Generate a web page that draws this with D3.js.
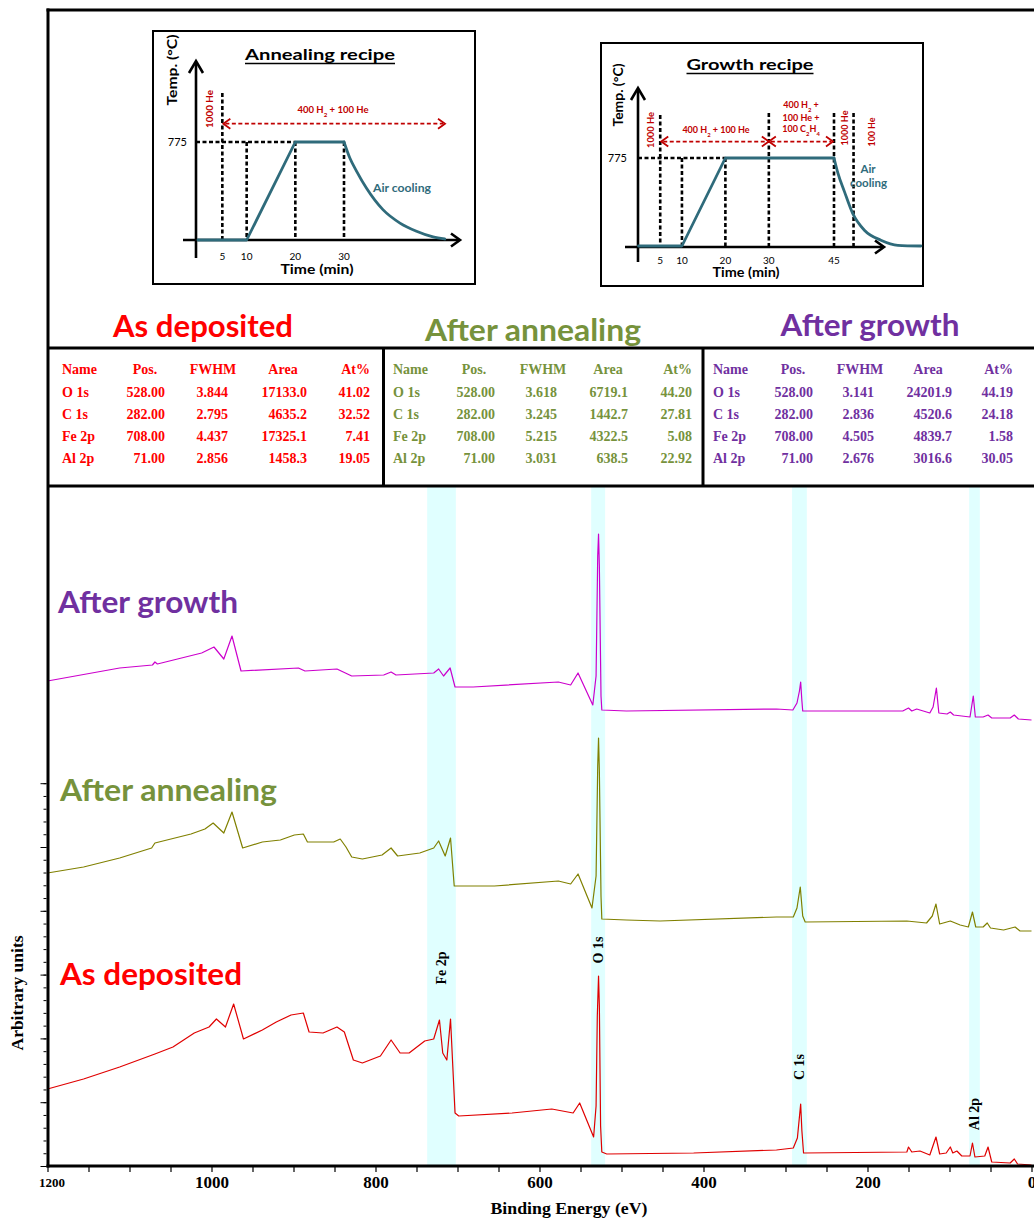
<!DOCTYPE html>
<html>
<head>
<meta charset="utf-8">
<script src="https://cdn.jsdelivr.net/npm/d3@7"></script>
<style>
  html, body { margin: 0; padding: 0; background: #fff; }
  svg { display: block; }
</style>
</head>
<body>
<svg id="chart" width="1034" height="1222"></svg>
<script>
// ---------------- XPS survey spectra: [binding energy (eV), intensity (a.u.)] ----------------
const afterGrowth = [
  [1200,485],[1112,498],[1072,501],[1069,504],[1066,502],[1012,513],[997,519],[985,507],[975,530],[964,495],
  [894,498],[886,495],[847,497],[829,490],[790,491],[781,494],[775,491],[729,493],[723,497],[717,490],
  [709,498],[703,479],[681,479],[577,484],[562,481],[553,493],[535,461],[531,490],[529,610],[528,632],
  [527,600],[525,470],[524,456],[494,455],[311,457],[291,456],[286,463],[283,475],[281.5,484],[280,465],
  [279,455],[157,455],[150,458],[146,455],[140,457],[124,453],[120,459],[116,478],[113,453],[103,452],
  [99,454],[95,451],[75,449],[71,470],[68.5,449],[59,449],[53,451],[48.5,448],[26,448],[21,451],
  [16,447],[0,446]
];
const afterAnnealing = [
  [1200,293],[1156,299],[1112,308],[1073,318],[1069,323],[1025,332],[1008,337],[998,343],[985,333],[975,354],
  [962,318],[938,324],[916,326],[899,331],[888,332],[883,324],[851,324],[843,327],[836,319],[829,309],
  [816,307],[792,311],[781,318],[773,310],[746,313],[729,318],[723,325],[715,310],[708.5,328],[704,280],
  [655,280],[577,285],[562,282],[553,292],[541,268],[536,258],[531,290],[529,400],[528,428],[527,395],
  [525,270],[524,247],[494,246],[453,245],[311,249],[290.5,249],[286,258],[282,279],[279,250],[276,244],
  [152,245],[128,243],[121,250],[116.5,262],[112,242],[99,245],[87,241],[77,239],[72,254],[68,239],
  [59,239],[54,243],[50,238],[34,236],[20,239],[14,235],[0,235]
];
const asDeposited = [
  [1200,77],[1156,87],[1112,99],[1069,112],[1047,119],[1021,133],[1003,139],[994,147],[983,139],[973,162],
  [961,127],[938,136],[921,144],[903,151],[888,153],[881,134],[864,133],[847,139],[838,134],[827,106],
  [816,103],[794,110],[781,126],[770,113],[759,113],[740,125],[729,127],[722,146],[718,113],[713,106],
  [708.5,147],[703,53],[698.5,50],[633.5,53],[585,57],[559,53],[551,63],[534,29],[531,60],[529.5,150],
  [528,190],[527,160],[525.5,40],[524,14],[518,12],[412,13],[311,16],[290.5,18],[285.5,28],[281.5,62],
  [280,35],[278,13],[152,14],[150,19],[146,14],[136,15],[124,11],[116.5,29],[112,12],[104,13],
  [99,19],[96,13],[91,15],[85,10],[75,10],[72,23],[69,9],[57,10],[53,19],[48.5,4],
  [26,3],[21,7],[17,2],[0,1]
];

// Highlighted core-level regions (eV)
const bandNames = ["Fe 2p", "O 1s", "C 1s", "Al 2p"];
const bandLow   = [702, 520, 274, 63];
const bandHigh  = [737, 537, 292, 76];

const energyTicks = [1200, 1000, 800, 600, 400, 200, 0];

// ---------------- quantification tables ----------------
const tableHeaders = ["Name", "Pos.", "FWHM", "Area", "At%"];
const peakNames = ["O 1s", "C 1s", "Fe 2p", "Al 2p"];
const peakPositions = [528.00, 282.00, 708.00, 71.00];
const asDepFWHM = [3.844, 2.795, 4.437, 2.856];
const asDepArea = [17133.0, 4635.2, 17325.1, 1458.3];
const asDepAt   = [41.02, 32.52, 7.41, 19.05];
const annFWHM   = [3.618, 3.245, 5.215, 3.031];
const annArea   = [6719.1, 1442.7, 4322.5, 638.5];
const annAt     = [44.20, 27.81, 5.08, 22.92];
const growFWHM  = [3.141, 2.836, 4.505, 2.676];
const growArea  = [24201.9, 4520.6, 4839.7, 3016.6];
const growAt    = [44.19, 24.18, 1.58, 30.05];

// ---------------- thermal recipes: [time (min), temperature (°C)] ----------------
const annealHeating = [[0,0],[10,0],[20,775],[30,775]];
const annealCooling = [[30,775],[31.2,648],[32.6,543],[34.6,411],[38,240],[41.5,134],[44.9,69],[48.3,24],[50.7,8]];
const annealTicks = [5, 10, 20, 30];
const growthHeating = [[0,0],[10,0],[20,775],[45,775]];
const growthCooling = [[45,775],[45.9,642],[47.4,479],[49.3,287],[52,139],[55.8,51],[59.7,6],[65,0]];
const growthTicks = [5, 10, 20, 30, 45];
const setpoint = 775;

// ---------------- drawing ----------------
const svg = d3.select("#chart");
const SERIF = '"Liberation Serif", "Times New Roman", serif';
const SANS = 'Lato, "Open Sans", sans-serif';
const RED = "#FF0000", OLIVE = "#76923C", PURPLE = "#7030A0";
const DARKRED = "#C00000", TEAL = "#2F6B7B";

svg.append("rect").attr("width", 1034).attr("height", 1222).attr("fill", "#fff");

// scales for the spectra
const x = d3.scaleLinear().domain([1200, 0]).range([47.5, 1031.5]);
const y = d3.scaleLinear().domain([0, 680]).range([1166, 486]);

// core-level bands
const bands = bandNames.map((n, i) => ({ name: n, lo: bandLow[i], hi: bandHigh[i] }));
svg.append("g").selectAll("rect").data(bands).join("rect")
  .attr("x", d => x(d.hi)).attr("width", d => x(d.lo) - x(d.hi))
  .attr("y", y(680)).attr("height", y(0) - y(680))
  .attr("fill", "#E0FFFF");

// spectra
const line = d3.line().x(d => x(d[0])).y(d => y(d[1]));
const spectra = [
  { data: afterGrowth, color: "#CC00CC" },
  { data: afterAnnealing, color: "#808000" },
  { data: asDeposited, color: "#E00000" }
];
svg.append("g").selectAll("path").data(spectra).join("path")
  .attr("d", d => line(d.data)).attr("fill", "none")
  .attr("stroke", d => d.color).attr("stroke-width", 1.2).attr("stroke-linejoin", "round");

// band labels (rotated)
const bandLabelY = { "Fe 2p": 968, "O 1s": 950, "C 1s": 1067, "Al 2p": 1114 };
svg.append("g").selectAll("text").data(bands).join("text")
  .attr("transform", d => `translate(${x((d.lo + d.hi) / 2)},${bandLabelY[d.name]}) rotate(-90)`)
  .attr("text-anchor", "middle").attr("dominant-baseline", "central")
  .attr("font-family", SERIF).attr("font-weight", "bold").attr("font-size", 14)
  .attr("fill", "#000").text(d => d.name);

// bottom axis
const xAxis = d3.axisBottom(x)
  .tickValues(d3.range(0, 1201, 50))
  .tickSize(6).tickSizeOuter(0)
  .tickFormat(d => energyTicks.includes(d) ? d : "");
const gx = svg.append("g").attr("transform", `translate(0,${y(0)})`).call(xAxis);
gx.select(".domain").remove();
gx.selectAll(".tick line").attr("stroke", "#000").attr("stroke-width", 1.2);
gx.selectAll(".tick text")
  .attr("font-family", SERIF).attr("font-weight", "bold").attr("font-size", 17).attr("fill", "#000")
  .attr("y", 10);
gx.selectAll(".tick text").filter(d => d === 1200).attr("font-size", 13).attr("y", 12).attr("dx", 4);

// left axis
const minorTicks = d3.range(0, 31).map(k => k * 12.76);
const majorTicks = d3.range(0, 7).map(k => k * 63.8);
const gyMinor = svg.append("g").attr("transform", "translate(46.5,0)")
  .call(d3.axisLeft(y).tickValues(minorTicks).tickSize(3).tickSizeOuter(0).tickFormat(""));
gyMinor.select(".domain").remove();
const gyMajor = svg.append("g").attr("transform", "translate(46.5,0)")
  .call(d3.axisLeft(y).tickValues(majorTicks).tickSize(6).tickSizeOuter(0).tickFormat(""));
gyMajor.select(".domain").remove();
svg.selectAll(".tick line").attr("stroke", "#000");

// axis titles
svg.append("text").attr("x", 569).attr("y", 1214).attr("text-anchor", "middle")
  .attr("font-family", SERIF).attr("font-weight", "bold").attr("font-size", 16)
  .attr("textLength", 157).attr("lengthAdjust", "spacingAndGlyphs")
  .text("Binding Energy (eV)");
svg.append("text").attr("transform", "translate(17,993) rotate(-90)")
  .attr("text-anchor", "middle").attr("dominant-baseline", "central")
  .attr("font-family", SERIF).attr("font-weight", "bold").attr("font-size", 16)
  .attr("textLength", 115).attr("lengthAdjust", "spacingAndGlyphs")
  .text("Arbitrary units");

// series labels in the plot
const seriesLabels = [
  { text: "After growth", color: PURPLE, x: 58, y: 613, w: 180 },
  { text: "After annealing", color: OLIVE, x: 60, y: 801, w: 217 },
  { text: "As deposited", color: RED, x: 60, y: 985, w: 182 }
];
svg.append("g").selectAll("text").data(seriesLabels).join("text")
  .attr("x", d => d.x).attr("y", d => d.y)
  .attr("font-family", SANS).attr("font-weight", "bold").attr("font-size", 31)
  .attr("fill", d => d.color).attr("textLength", d => d.w).attr("lengthAdjust", "spacingAndGlyphs")
  .text(d => d.text);

// ---------------- tables ----------------
const panels = [
  { title: "As deposited", color: RED, fwhm: asDepFWHM, area: asDepArea, at: asDepAt,
    tx: 203, ty: 337, tw: 180,
    cols: { name: 62, pos: 165, fwhm: 228, area: 307, at: 370 }, hdr: { pos: 145, fwhm: 213, area: 283 } },
  { title: "After annealing", color: OLIVE, fwhm: annFWHM, area: annArea, at: annAt,
    tx: 533, ty: 341, tw: 216,
    cols: { name: 393, pos: 495, fwhm: 557, area: 628, at: 692 }, hdr: { pos: 474, fwhm: 543, area: 608 } },
  { title: "After growth", color: PURPLE, fwhm: growFWHM, area: growArea, at: growAt,
    tx: 870, ty: 336, tw: 179,
    cols: { name: 713, pos: 813, fwhm: 874, area: 952, at: 1013 }, hdr: { pos: 793, fwhm: 860, area: 928 } }
];
const rowBase = [374, 396.5, 418.5, 440.5, 462.5];
panels.forEach(p => {
  svg.append("text").attr("x", p.tx).attr("y", p.ty).attr("text-anchor", "middle")
    .attr("font-family", SANS).attr("font-weight", "bold").attr("font-size", 30)
    .attr("fill", p.color).attr("textLength", p.tw).attr("lengthAdjust", "spacingAndGlyphs")
    .text(p.title);
  const g = svg.append("g").attr("font-family", SERIF).attr("font-weight", "bold")
    .attr("font-size", 14).attr("fill", p.color);
  // header row
  const hx = [p.cols.name, p.hdr.pos, p.hdr.fwhm, p.hdr.area, p.cols.at];
  const ha = ["start", "middle", "middle", "middle", "end"];
  tableHeaders.forEach((h, i) => {
    g.append("text").attr("x", hx[i]).attr("y", rowBase[0]).attr("text-anchor", ha[i]).text(h);
  });
  peakNames.forEach((n, r) => {
    const yy = rowBase[r + 1];
    g.append("text").attr("x", p.cols.name).attr("y", yy).text(n);
    g.append("text").attr("x", p.cols.pos).attr("y", yy).attr("text-anchor", "end").text(peakPositions[r].toFixed(2));
    g.append("text").attr("x", p.cols.fwhm).attr("y", yy).attr("text-anchor", "end").text(p.fwhm[r].toFixed(3));
    g.append("text").attr("x", p.cols.area).attr("y", yy).attr("text-anchor", "end").text(p.area[r].toFixed(1));
    g.append("text").attr("x", p.cols.at).attr("y", yy).attr("text-anchor", "end").text(p.at[r].toFixed(2));
  });
});

// ---------------- frame ----------------
const frame = svg.append("g").attr("stroke", "#000").attr("stroke-width", 3).attr("fill", "none");
frame.append("line").attr("x1", 46.5).attr("x2", 1034).attr("y1", 10).attr("y2", 10);
frame.append("line").attr("x1", 48).attr("x2", 48).attr("y1", 8.5).attr("y2", 1167.5);
frame.append("line").attr("x1", 48).attr("x2", 1034).attr("y1", 348).attr("y2", 348);
frame.append("line").attr("x1", 48).attr("x2", 1034).attr("y1", 486).attr("y2", 486);
frame.append("line").attr("x1", 383.5).attr("x2", 383.5).attr("y1", 348).attr("y2", 486);
frame.append("line").attr("x1", 703).attr("x2", 703).attr("y1", 348).attr("y2", 486);
frame.append("line").attr("x1", 46.5).attr("x2", 1034).attr("y1", y(0)).attr("y2", y(0));

// ---------------- recipe insets ----------------
function gasLabel(g, xx, yy, str, size, anchor) {
  const t = g.append("text").attr("x", xx).attr("y", yy).attr("text-anchor", anchor || "middle")
    .attr("font-family", SANS).attr("font-weight", "bold").attr("font-size", size).attr("fill", DARKRED);
  str.split(/(_\d)/).forEach(part => {
    if (part.startsWith("_")) {
      t.append("tspan").attr("baseline-shift", "sub").attr("font-size", size * 0.65).text(part.slice(1));
    } else if (part.length) {
      t.append("tspan").text(part);
    }
  });
  return t;
}
function vLabel(g, xx, yy, str, size, color, len) {
  const t = g.append("text").attr("transform", `translate(${xx},${yy}) rotate(-90)`)
    .attr("text-anchor", "middle").attr("dominant-baseline", "central")
    .attr("font-family", SANS).attr("font-weight", "bold").attr("font-size", size)
    .attr("fill", color).text(str);
  if (len) t.attr("textLength", len).attr("lengthAdjust", "spacingAndGlyphs");
  return t;
}
function chevron(g, tipX, tipY, dir, len, half, color, width) {
  let pts;
  if (dir === "right") pts = [[tipX - len, tipY - half], [tipX, tipY], [tipX - len, tipY + half]];
  if (dir === "left")  pts = [[tipX + len, tipY - half], [tipX, tipY], [tipX + len, tipY + half]];
  if (dir === "up")    pts = [[tipX - half, tipY + len], [tipX, tipY], [tipX + half, tipY + len]];
  g.append("path").attr("d", d3.line()(pts)).attr("fill", "none")
    .attr("stroke", color).attr("stroke-width", width).attr("stroke-linejoin", "miter");
}
function gasArrow(g, x1, x2, yy) {
  g.append("line").attr("x1", x1 + 2).attr("x2", x2 - 2).attr("y1", yy).attr("y2", yy)
    .attr("stroke", DARKRED).attr("stroke-width", 1.8).attr("stroke-dasharray", "4,2.5");
  chevron(g, x1, yy, "left", 7, 5, DARKRED, 1.8);
  chevron(g, x2, yy, "right", 7, 5, DARKRED, 1.8);
}

function drawRecipe(cfg) {
  const g = svg.append("g");
  g.append("rect").attr("x", cfg.box[0]).attr("y", cfg.box[1])
    .attr("width", cfg.box[2] - cfg.box[0]).attr("height", cfg.box[3] - cfg.box[1])
    .attr("fill", "#fff").attr("stroke", "#000").attr("stroke-width", 2);
  const tx = d3.scaleLinear().domain(cfg.tDomain).range(cfg.tRange);
  const ty = d3.scaleLinear().domain([0, setpoint]).range(cfg.TRange);
  const ax = cfg.axisX, ay = cfg.axisY;

  // dashed guides
  const dash = g.append("g").attr("stroke", "#000").attr("stroke-width", 2.6).attr("stroke-dasharray", "4,2.5");
  dash.append("line").attr("x1", ax).attr("x2", tx(20)).attr("y1", ty(setpoint)).attr("y2", ty(setpoint));
  cfg.guides.forEach(gd => {
    dash.append("line").attr("x1", tx(gd[0])).attr("x2", tx(gd[0])).attr("y1", ty(gd[1])).attr("y2", ay);
  });

  // axes with arrowheads
  g.append("line").attr("x1", ax).attr("x2", ax).attr("y1", cfg.axisYBottom).attr("y2", cfg.axisYTop + 1)
    .attr("stroke", "#000").attr("stroke-width", 2.6);
  chevron(g, ax, cfg.axisYTop, "up", 12, 7, "#000", 2.6);
  g.append("line").attr("x1", cfg.axisXLeft).attr("x2", cfg.axisXRight - 1).attr("y1", ay).attr("y2", ay)
    .attr("stroke", "#000").attr("stroke-width", 2.6);
  chevron(g, cfg.axisXRight, ay, "right", 9, 6.5, "#000", 2.6);

  // temperature profile: linear ramp + smooth cooling
  const ramp = d3.line().x(d => tx(d[0])).y(d => ty(d[1]));
  const cool = d3.line().x(d => tx(d[0])).y(d => ty(d[1])).curve(d3.curveMonotoneX);
  const prof = g.append("g").attr("fill", "none").attr("stroke", TEAL).attr("stroke-width", 2.8)
    .attr("stroke-linejoin", "round").attr("stroke-linecap", "round");
  prof.append("path").attr("d", ramp(cfg.heating));
  prof.append("path").attr("d", cool(cfg.cooling));

  // ticks
  g.append("g").selectAll("text").data(cfg.ticks).join("text")
    .attr("x", d => tx(d)).attr("y", cfg.tickY).attr("text-anchor", "middle")
    .attr("font-family", SANS).attr("font-size", 10).attr("fill", "#000").text(d => d);
  g.append("text").attr("x", cfg.setX).attr("y", ty(setpoint) + 4).attr("text-anchor", "end")
    .attr("font-family", SANS).attr("font-size", 11).attr("fill", "#000").text(setpoint);

  // titles
  g.append("text").attr("x", cfg.titleX).attr("y", cfg.titleY).attr("text-anchor", "middle")
    .attr("font-family", SANS).attr("font-weight", "bold").attr("font-size", 16).attr("fill", "#000")
    .attr("textLength", cfg.titleW).attr("lengthAdjust", "spacingAndGlyphs").text(cfg.title);
  g.append("line").attr("x1", cfg.titleX - cfg.titleW / 2).attr("x2", cfg.titleX + cfg.titleW / 2)
    .attr("y1", cfg.titleY + 3.5).attr("y2", cfg.titleY + 3.5).attr("stroke", "#000").attr("stroke-width", 1.3);
  g.append("text").attr("x", cfg.timeX).attr("y", cfg.timeY).attr("text-anchor", "middle")
    .attr("font-family", SANS).attr("font-weight", "bold").attr("font-size", 13).attr("fill", "#000")
    .attr("textLength", cfg.timeW).attr("lengthAdjust", "spacingAndGlyphs").text("Time (min)");
  vLabel(g, cfg.tempX, cfg.tempY, "Temp. (°C)", 13, "#000", cfg.tempLen);
  return { g, tx, ty };
}

// Annealing recipe
const ann = drawRecipe({
  box: [153, 31, 475, 284],
  tDomain: [0, 30], tRange: [198, 344], TRange: [240, 142],
  axisX: 196, axisY: 240, axisYTop: 61, axisYBottom: 258, axisXLeft: 183, axisXRight: 460,
  guides: [[5, 1162], [10, 775], [20, 775], [30, 775]],
  heating: annealHeating, cooling: annealCooling, ticks: annealTicks, tickY: 260, setX: 187,
  title: "Annealing recipe", titleX: 320, titleY: 60, titleW: 150,
  timeX: 317, timeY: 274, timeW: 73, tempX: 172, tempY: 70, tempLen: 71
});
gasArrow(ann.g, ann.tx(5) + 1, 445, ann.ty(920));
gasLabel(ann.g, 333, 113, "400 H_2 + 100 He", 9.5);
vLabel(ann.g, 209, 109, "1000 He", 9.5, DARKRED, 38);
ann.g.append("text").attr("x", 402).attr("y", 192).attr("text-anchor", "middle")
  .attr("font-family", SANS).attr("font-weight", "bold").attr("font-size", 12).attr("fill", TEAL)
  .attr("textLength", 58).attr("lengthAdjust", "spacingAndGlyphs").text("Air cooling");

// Growth recipe
const gro = drawRecipe({
  box: [601, 43, 923, 286],
  tDomain: [0, 45], tRange: [638.5, 834], TRange: [246, 158],
  axisX: 638, axisY: 247, axisYTop: 88, axisYBottom: 262, axisXLeft: 625, axisXRight: 884,
  guides: [[5, 1154], [10, 775], [20, 775], [30, 1171], [45, 1171], [49.5, 1171]],
  heating: growthHeating, cooling: growthCooling, ticks: growthTicks, tickY: 264, setX: 627,
  title: "Growth recipe", titleX: 750, titleY: 70, titleW: 127,
  timeX: 746, timeY: 277, timeW: 67, tempX: 617.5, tempY: 95, tempLen: 63
});
gasArrow(gro.g, gro.tx(5) + 1, gro.tx(30), gro.ty(920));
gasArrow(gro.g, gro.tx(30), gro.tx(45) - 1, gro.ty(920));
gasLabel(gro.g, 716, 133, "400 H_2 + 100 He", 9);
gasLabel(gro.g, 801, 108, "400 H_2 +", 9);
gasLabel(gro.g, 801, 120.5, "100 He +", 9);
gasLabel(gro.g, 801, 132, "100 C_2H_4", 9);
vLabel(gro.g, 650, 130, "1000 He", 9, DARKRED, 36);
vLabel(gro.g, 844, 128, "1000 He", 9, DARKRED, 35);
vLabel(gro.g, 871.5, 132, "100 He", 9, DARKRED, 29);
gro.g.append("text").attr("x", 868).attr("y", 173).attr("text-anchor", "middle")
  .attr("font-family", SANS).attr("font-weight", "bold").attr("font-size", 11.5).attr("fill", TEAL).text("Air");
gro.g.append("text").attr("x", 868.5).attr("y", 187).attr("text-anchor", "middle")
  .attr("font-family", SANS).attr("font-weight", "bold").attr("font-size", 11.5).attr("fill", TEAL).text("cooling");
</script>
</body>
</html>
